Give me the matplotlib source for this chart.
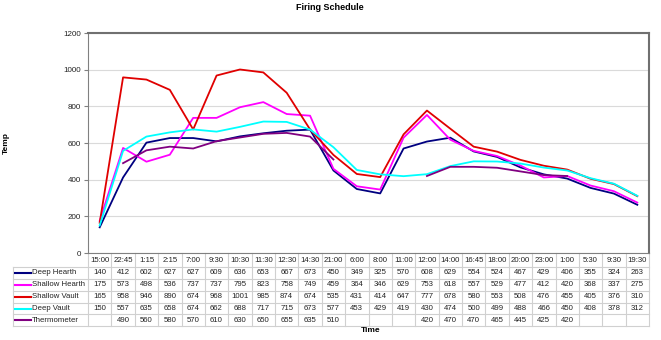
import numpy as np
import matplotlib.pyplot as plt
from matplotlib.lines import Line2D
from matplotlib.transforms import blended_transform_factory

plt.rcParams['font.family'] = ['Liberation Sans', 'DejaVu Sans']

# Data
times = ["15:00", "22:45", "1:15", "2:15", "7:00", "9:30", "10:30", "11:30",
         "12:30", "14:30", "21:00", "6:00", "8:00", "11:00", "12:00", "14:00",
         "16:45", "18:00", "20:00", "23:00", "1:00", "5:30", "9:30", "19:30"]

deep_hearth = [140, 412, 602, 627, 627, 609, 636, 653, 667, 673, 450, 349,
               325, 570, 608, 629, 554, 524, 467, 429, 406, 355, 324, 263]
shallow_hearth = [175, 573, 498, 536, 737, 737, 795, 823, 758, 749, 459, 364,
                  346, 629, 753, 618, 557, 529, 477, 412, 420, 368, 337, 275]
shallow_vault = [165, 958, 946, 890, 674, 968, 1001, 985, 874, 674, 535, 431,
                 414, 647, 777, 678, 580, 553, 508, 476, 455, 405, 376, 310]
deep_vault = [150, 557, 635, 658, 674, 662, 688, 717, 715, 673, 577, 453,
              429, 419, 430, 474, 500, 499, 488, 466, 450, 408, 378, 312]
thermometer = [None, 490, 560, 580, 570, 610, 630, 650, 655, 635, 510, None,
               None, None, 420, 470, 470, 465, 445, 425, 420, None, None, None]

series = [
    ("Deep Hearth", deep_hearth, "#000080"),
    ("Shallow Hearth", shallow_hearth, "#FF00FF"),
    ("Shallow Vault", shallow_vault, "#E00000"),
    ("Deep Vault", deep_vault, "#00FFFF"),
    ("Thermometer", thermometer, "#800080"),
]

W, H = 661, 340
fig = plt.figure(figsize=(W / 100, H / 100), dpi=100)

# plot area in pixels
left, right, top, bottom = 88, 649, 33, 253
ax = fig.add_axes([left / W, 1 - bottom / H, (right - left) / W, (bottom - top) / H])

x = np.arange(len(times))
for name, vals, color in series:
    y = np.array([np.nan if v is None else v for v in vals], dtype=float)
    ax.plot(x, y, color=color, lw=1.3, label=name)

ax.set_xlim(-0.5, len(times) - 0.5)
ax.set_ylim(0, 1200)
ax.set_yticks(range(0, 1201, 200))
ax.yaxis.grid(True, color="#dadada", lw=0.8)
ax.set_axisbelow(True)
ax.set_xticks([])
ax.tick_params(axis="y", labelsize=5.8, length=3, color="#808080", pad=2,
               labelcolor="#222222")
for s in ["top", "right"]:
    ax.spines[s].set_color("#707070")
    ax.spines[s].set_linewidth(1.5)
ax.spines["left"].set_color("#808080")
ax.spines["bottom"].set_color("#808080")

fig.text(330 / W, 1 - 7 / H, "Firing Schedule", ha="center", va="center",
         fontsize=6.5, fontweight="bold")
fig.text(6 / W, 1 - 143 / H, "Temp", ha="center", va="center", rotation=90,
         fontsize=6, fontweight="bold")
fig.text(371 / W, 1 - 331 / H, "Time", ha="center", va="center",
         fontsize=6, fontweight="bold")

# data table below the plot
tr = blended_transform_factory(ax.transData, fig.transFigure)
grid_col = "#d0d0d0"
row_lines = [267, 279, 291, 303, 314, 326]
row_centers = [273, 285, 297, 309, 320]
header_y = 260
fs = 5.6

for px in row_lines:
    fig.add_artist(Line2D([13 / W, right / W], [1 - px / H] * 2,
                          color=grid_col, lw=0.8, transform=fig.transFigure))
fig.add_artist(Line2D([13 / W] * 2, [1 - 267 / H, 1 - 326 / H],
                      color=grid_col, lw=0.8, transform=fig.transFigure))
for b in np.arange(len(times) + 1) - 0.5:
    ax.add_artist(Line2D([b, b], [1 - bottom / H, 1 - 326 / H], color=grid_col,
                         lw=0.8, transform=tr, clip_on=False))

for i, t in enumerate(times):
    fig.text(i, 1 - header_y / H, t, transform=tr, ha="center", va="center",
             fontsize=fs, color="#222222")

for (name, vals, color), yc in zip(series, row_centers):
    fy = 1 - yc / H
    fig.add_artist(Line2D([15 / W, 31 / W], [fy, fy], color=color, lw=1.5,
                          transform=fig.transFigure))
    fig.text(32 / W, fy, name, ha="left", va="center", fontsize=fs,
             color="#222222")
    for i, v in enumerate(vals):
        if v is not None:
            fig.text(i, fy, str(v), transform=tr, ha="center", va="center",
                     fontsize=fs, color="#222222")

fig.savefig("out.png", dpi=100)
